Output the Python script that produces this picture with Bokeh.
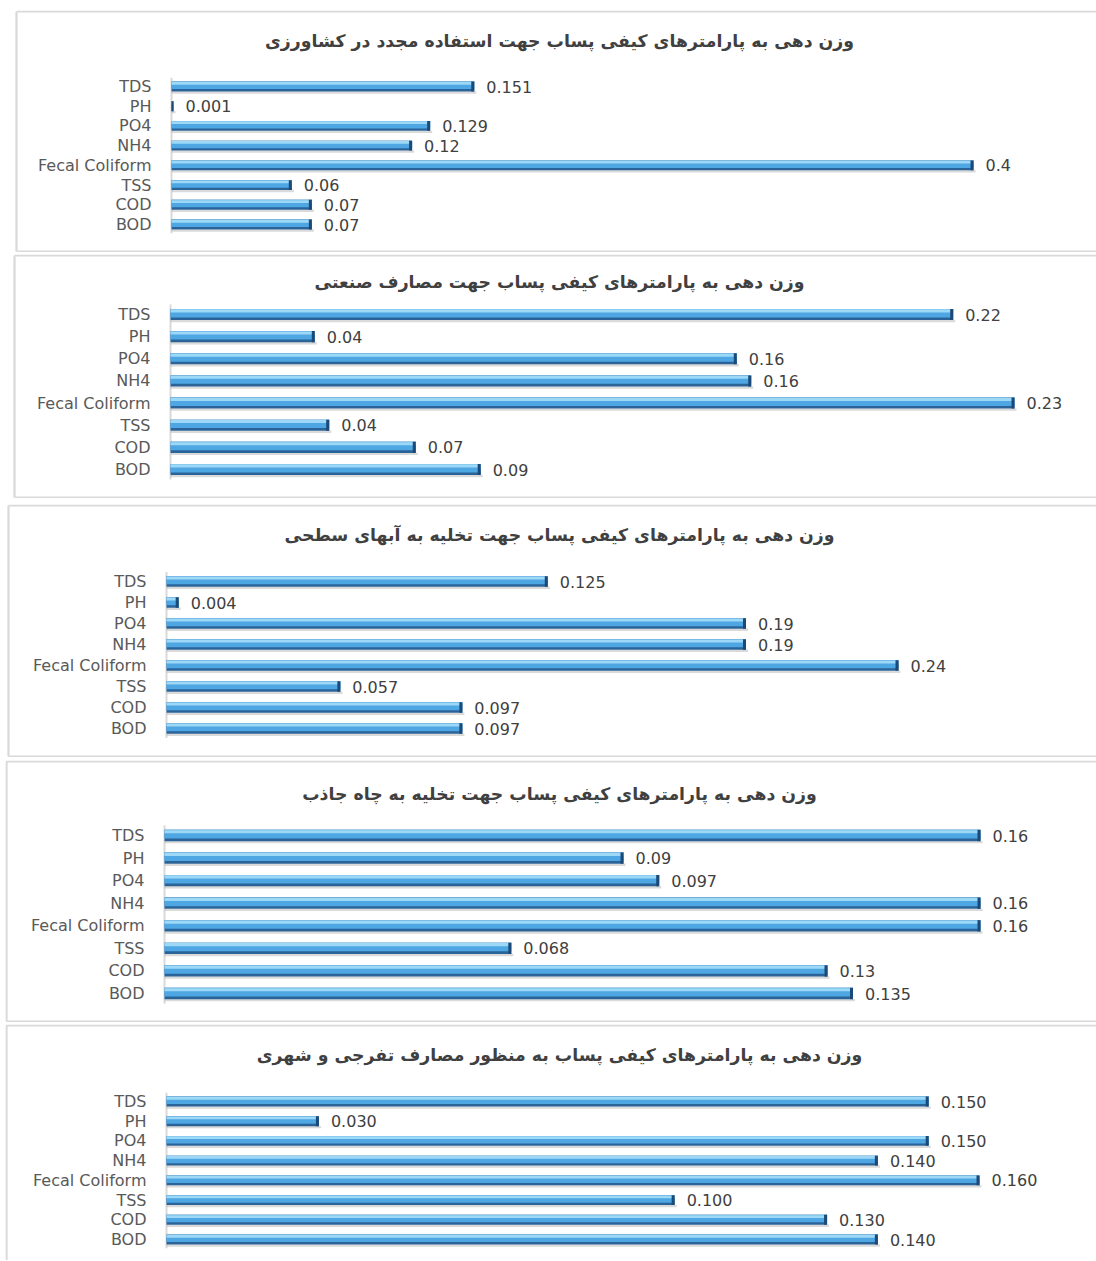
import numpy as np
from bokeh.plotting import figure
from bokeh.layouts import column
from bokeh.models import Range1d, Label
from bokeh.embed import file_html
from bokeh.resources import INLINE
from bokeh.core.properties import value

# ---------------- data ----------------
categories = ["TDS", "PH", "PO4", "NH4", "Fecal Coliform", "TSS", "COD", "BOD"]

titles = [
    "وزن دهی به پارامترهای کیفی پساب جهت استفاده مجدد در کشاورزی",
    "وزن دهی به پارامترهای کیفی پساب جهت مصارف صنعتی",
    "وزن دهی به پارامترهای کیفی پساب جهت تخلیه به آبهای سطحی",
    "وزن دهی به پارامترهای کیفی پساب جهت تخلیه به چاه جاذب",
    "وزن دهی به پارامترهای کیفی پساب به منظور مصارف تفرجی و شهری",
]

agriculture = [0.151, 0.001, 0.129, 0.12, 0.4, 0.06, 0.07, 0.07]
industry = [0.217, 0.040, 0.157, 0.161, 0.234, 0.044, 0.068, 0.086]
surface_water = [0.125, 0.004, 0.19, 0.19, 0.24, 0.057, 0.097, 0.097]
absorbing_well = [0.16, 0.09, 0.097, 0.16, 0.16, 0.068, 0.13, 0.135]
urban = [0.150, 0.030, 0.150, 0.140, 0.160, 0.100, 0.130, 0.140]

series = [agriculture, industry, surface_water, absorbing_well, urban]
label_formats = ["{:g}", "{:.2f}", "{:g}", "{:g}", "{:.3f}"]

# ---------------- layout (pixels) ----------------
CANVAS_W = 1096
FRAME_L = 5            # common frame left (column aligns frames)
TITLE_CX = 559
# border: x of panel's left border; axis: x of bar base; end: x where the largest bar ends
geo = [
    dict(gap=10, H=242, border=15, axis=171, end=973, top=76, bot=214, title=30, bottom_border=True),
    dict(gap=2, H=244, border=13, axis=170, end=1014, top=60, bot=215, title=27, bottom_border=True),
    dict(gap=6, H=253, border=7, axis=166, end=898, top=77, bot=224, title=30, bottom_border=True),
    dict(gap=3, H=262, border=5, axis=164, end=980, top=75, bot=233, title=33, bottom_border=True),
    dict(gap=2, H=236, border=5, axis=166, end=979, top=77, bot=215, title=30, bottom_border=False),
]

BORDER = "#d9d9d9"
FONT = value("DejaVu Sans")

figs = []
n = len(categories)
for vals, ttl, fmt, g in zip(series, titles, label_formats, geo):
    vals = np.array(vals, dtype=float)
    ys = np.arange(n)[::-1].astype(float)  # TDS at top
    W = CANVAS_W - FRAME_L
    H = g["H"]
    a = g["axis"] - FRAME_L
    b = g["end"] - FRAME_L
    vmax = vals.max()
    span = vmax * W / (b - a)
    x0 = -a * vmax / (b - a)
    x1 = x0 + span
    pitch = (g["bot"] - g["top"]) / (n - 1)
    y1 = (n - 1) + g["top"] / pitch
    y0 = (n - 1) - (H - g["top"]) / pitch
    dx = span / W
    dy = 1.0 / pitch

    p = figure(width=CANVAS_W, height=g["gap"] + H,
               x_range=Range1d(x0, x1), y_range=Range1d(y0, y1),
               x_axis_location=None, y_axis_location=None, title=None,
               toolbar_location=None, output_backend="svg",
               min_border_top=g["gap"], min_border_left=FRAME_L,
               min_border_right=0, min_border_bottom=0)
    p.outline_line_color = None
    p.grid.visible = False
    p.background_fill_color = "white"
    p.border_fill_color = "white"

    # panel border (left, top, bottom)
    bx = x0 + (g["border"] - FRAME_L + 1) * dx
    ty = y1 - 1 * dy
    by = y0 + 1 * dy
    sx0, sy0, sx1, sy1 = [bx, bx], [by if g["bottom_border"] else y0, ty], [bx, x1], [ty, ty]
    if g["bottom_border"]:
        sx0.append(bx); sy0.append(by); sx1.append(x1); sy1.append(by)
    p.segment(x0=sx0, y0=sy0, x1=sx1, y1=sy1, line_color=BORDER, line_width=2.2)

    # category axis line
    p.segment(x0=[0], y0=[-0.45], x1=[0], y1=[n - 1 + 0.45], line_color=BORDER, line_width=2)

    t = 0.5 * pitch  # bar thickness in px
    # shadow
    p.hbar(y=ys - (t / 2 + 1.0) * dy, height=2.4 * dy, left=0, right=vals + 2 * dx,
           fill_color="#b5b5b5", fill_alpha=0.5, line_color=None)
    # base (dark)
    p.hbar(y=ys, height=t * dy, left=0, right=vals, fill_color="#2a6398", line_color=None)
    # mid
    p.hbar(y=ys + 0.12 * t * dy, height=0.76 * t * dy, left=0, right=vals,
           fill_color="#4ea6e2", line_color=None)
    # highlight
    p.hbar(y=ys + 0.33 * t * dy, height=0.28 * t * dy, left=0, right=vals,
           fill_color="#9dd8f7", line_color=None)
    # end cap
    p.hbar(y=ys, height=t * dy, left=np.maximum(vals - 3 * dx, 0), right=vals,
           fill_color="#1c4a78", line_color=None)

    labels = [fmt.format(v) for v in vals]
    p.text(x=vals, y=ys, text=labels, x_offset=12, text_baseline="middle",
           text_align="left", text_font=FONT, text_font_size="16px", text_color="#404040")
    p.text(x=[0] * n, y=ys, text=categories, x_offset=-20, text_baseline="middle",
           text_align="right", text_font=FONT, text_font_size="16px", text_color="#595959")

    title_x = x0 + (TITLE_CX - FRAME_L) * dx
    title_y = y1 - g["title"] * dy
    p.add_layout(Label(x=title_x, y=title_y, text=ttl, text_align="center",
                       text_baseline="middle", text_font="DejaVu Sans",
                       text_font_style="bold",
                       text_font_size="17.3px", text_color="#404040"))
    figs.append(p)

layout = column(*figs, spacing=0)
open("out.html", "w").write(file_html(layout, INLINE))
